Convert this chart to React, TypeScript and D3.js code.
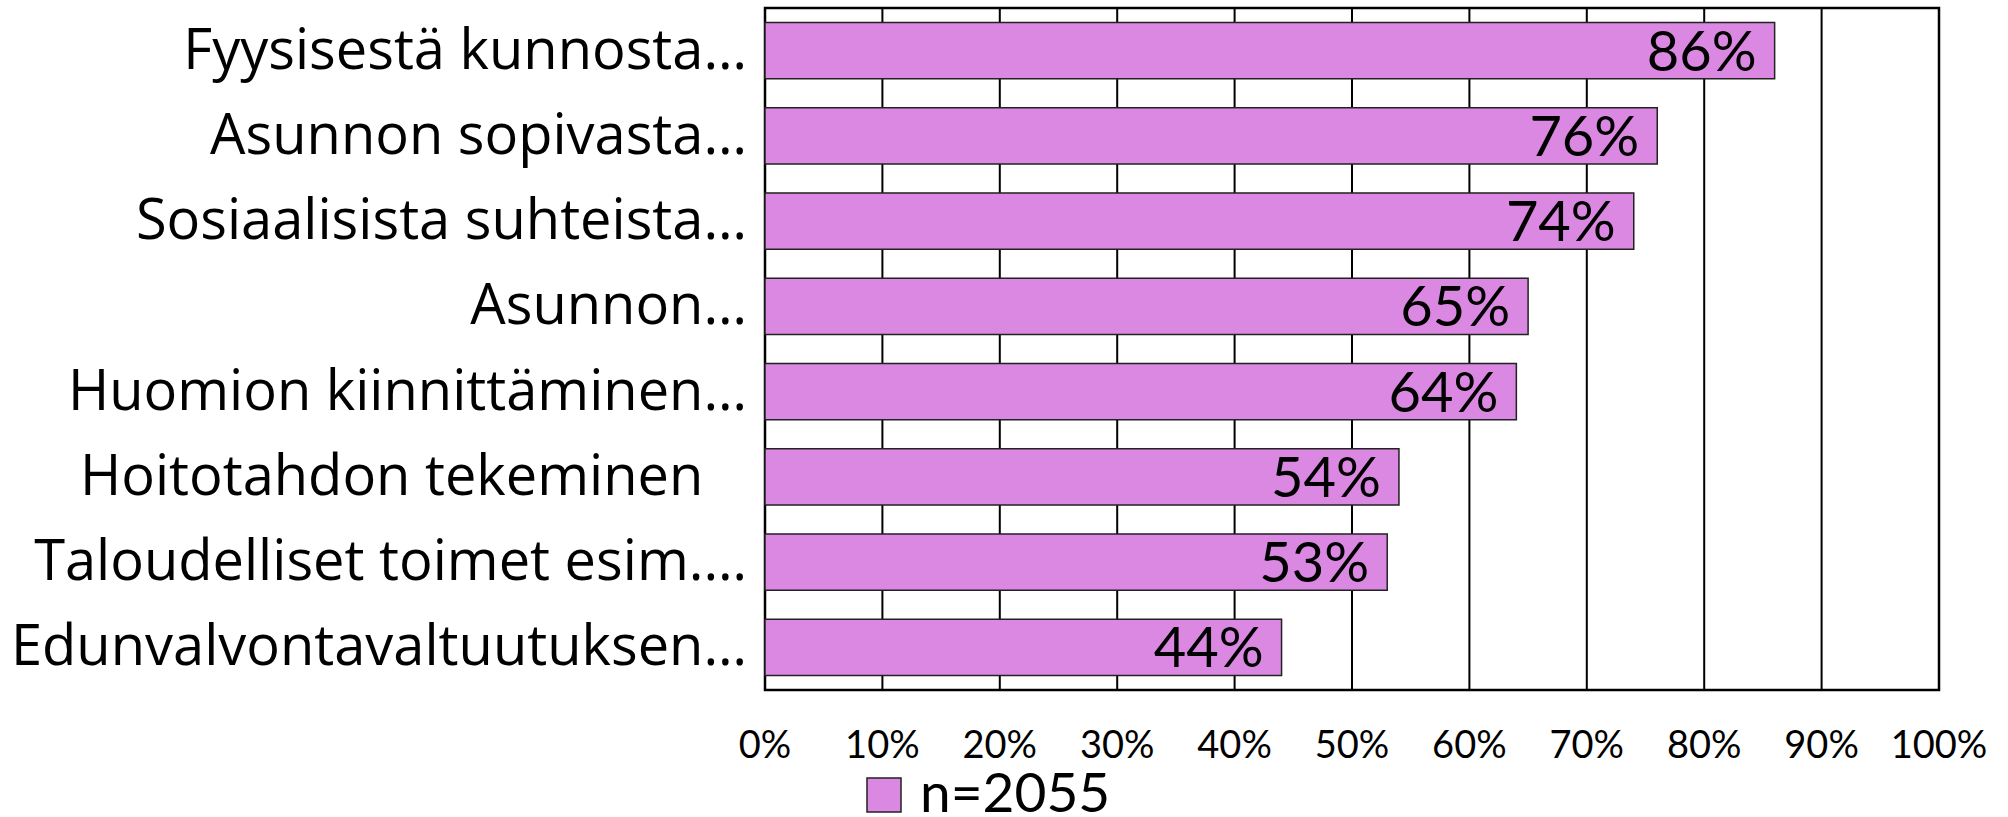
import * as d3 from 'd3';

const categories = [
  'Fyysisestä kunnosta…',
  'Asunnon sopivasta…',
  'Sosiaalisista suhteista…',
  'Asunnon…',
  'Huomion kiinnittäminen…',
  'Hoitotahdon tekeminen\u00A0\u00A0\u00A0',
  'Taloudelliset toimet esim.…',
  'Edunvalvontavaltuutuksen…',
];
const values = [86, 76, 74, 65, 64, 54, 53, 44];
const tickValues = [0, 10, 20, 30, 40, 50, 60, 70, 80, 90, 100];
const legendLabel = 'n=2055';

const barColor = '#da88e1';
const font = 'Lato, "Open Sans", sans-serif';
const labelFont = '"Open Sans", Lato, sans-serif';

export default function App() {
  const width = 2008;
  const height = 817;
  const plot = { left: 765, right: 1939, top: 8, bottom: 690 };

  const x = d3.scaleLinear().domain([0, 100]).range([plot.left, plot.right]);
  const y = d3
    .scaleBand<string>()
    .domain(categories)
    .range([plot.top, plot.bottom])
    .paddingInner(0.34)
    .paddingOuter(0.17);

  return (
    <svg
      width={width}
      height={height}
      viewBox={`0 0 ${width} ${height}`}
      style={{ position: 'absolute', left: 0, top: 0, background: '#fff' }}
    >
      {/* gridlines */}
      {tickValues.map((t) => (
        <line
          key={`g${t}`}
          x1={x(t)}
          x2={x(t)}
          y1={plot.top}
          y2={plot.bottom}
          stroke='#000'
          strokeWidth={2}
        />
      ))}
      <rect
        x={plot.left}
        y={plot.top}
        width={plot.right - plot.left}
        height={plot.bottom - plot.top}
        fill='none'
        stroke='#000'
        strokeWidth={2.5}
      />

      {/* bars */}
      {categories.map((c, i) => (
        <rect
          key={c}
          x={x(0)}
          y={y(c)}
          width={x(values[i]) - x(0)}
          height={y.bandwidth()}
          fill={barColor}
          stroke='#222'
          strokeWidth={1.5}
        />
      ))}

      {/* value labels */}
      {categories.map((c, i) => (
        <text
          key={`v${c}`}
          x={x(values[i]) - 18}
          y={(y(c) ?? 0) + y.bandwidth() / 2 + 20}
          textAnchor='end'
          fontFamily={font}
          fontSize={56}
          fill='#000'
        >
          {values[i]}%
        </text>
      ))}

      {/* category labels */}
      {categories.map((c) => (
        <text
          key={`c${c}`}
          x={747}
          y={(y(c) ?? 0) + y.bandwidth() / 2 + 18}
          textAnchor='end'
          fontFamily={labelFont}
          fontSize={56}
          fill='#000'
          style={{ whiteSpace: 'pre' }}
        >
          {c}
        </text>
      ))}

      {/* x tick labels */}
      {tickValues.map((t) => (
        <text
          key={`t${t}`}
          x={x(t)}
          y={758}
          textAnchor='middle'
          fontFamily={font}
          fontSize={38}
          fill='#000'
        >
          {t}%
        </text>
      ))}

      {/* legend */}
      <rect
        x={867}
        y={778}
        width={34}
        height={34}
        fill={barColor}
        stroke='#222'
        strokeWidth={1.5}
      />
      <text x={920} y={812} fontFamily={font} fontSize={55} fill='#000'>
        {legendLabel}
      </text>
    </svg>
  );
}
